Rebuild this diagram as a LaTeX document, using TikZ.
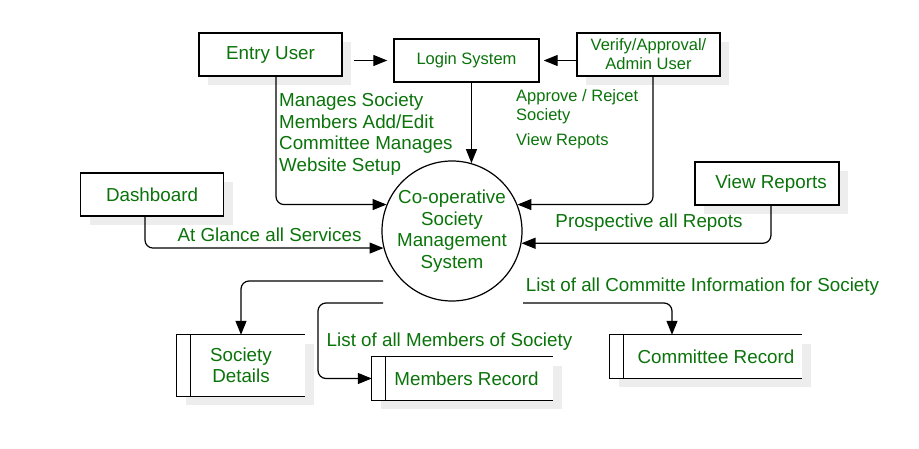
\documentclass[tikz,border=0pt]{standalone}
\usepackage{fontspec}
\setmainfont{Liberation Sans}
\usetikzlibrary{arrows.meta, positioning, calc, shadows}
\definecolor{txtgreen}{RGB}{10,115,10}

\begin{document}
\begin{tikzpicture}[
    x=1pt, y=-1pt,
    >={Triangle[length=14pt,width=11pt]},
    wire/.style={line width=1.2pt},
    flow/.style={wire, ->, rounded corners=8pt},
    shade/.style={drop shadow={shadow xshift=9pt, shadow yshift=-9pt,
                  fill=black!7, opacity=1}},
    bigfont/.style={font=\fontsize{18.8}{21.5}\selectfont},
    smallfont/.style={font=\fontsize{16.5}{19}\selectfont},
    entity/.style={draw, line width=1.4pt, fill=white, minimum width=143pt,
                   minimum height=43pt, inner sep=1pt, align=center,
                   text=txtgreen, bigfont},
    procnode/.style={draw, circle, line width=1.2pt, minimum size=140pt,
                     inner sep=0pt, align=center, text=txtgreen, bigfont},
    storenode/.style={fill=white, minimum height=43pt, inner sep=1pt,
                      align=center, text=txtgreen, bigfont, shade},
    flowlbl/.style={text=txtgreen, inner sep=0pt, align=left, bigfont}
  ]
  \useasboundingbox (0,0) rectangle (919,449);

  % External entities
  \node[entity, shade] (entry) at (270.5, 54.5) {Entry User};
  \node[entity, smallfont, minimum width=145pt] (login) at (466.5, 60.5) {Login System};
  \node[entity, shade, smallfont] (verify) at (648.5, 54.5) {Verify/Approval/\\Admin User};
  \node[entity, shade] (dash) at (152, 194.5) {Dashboard};
  \node[entity, shade, minimum width=144pt] (viewrep) at (767, 183.5) {\hspace*{8pt}View Reports};

  % Process
  \node[procnode] (sys) at (452, 231) {Co-operative\\Society\\Management\\System};

  % Data stores
  \node[storenode, minimum width=128pt, minimum height=61pt] (socdet) at (241, 365.5) {Society\\Details};
  \node[storenode, minimum width=181pt] (memrec) at (462.5, 378.5) {\hspace*{8pt}Members Record};
  \node[storenode, minimum width=192pt] (comrec) at (706, 356.5) {\hspace*{20pt}Committee Record};
  \foreach \s in {socdet, memrec, comrec} {
    \draw[wire] (\s.north east) -- (\s.north west) -- (\s.south west) -- (\s.south east);
    \draw[wire] ($(\s.north west)+(14,0)$) -- ($(\s.south west)+(14,0)$);
  }

  % Flows into login
  \draw[flow, shorten <=11pt, shorten >=6pt] (entry.east |- login.west) -- (login.west);
  \draw[flow, shorten >=4pt] (verify.west |- login.east) -- (login.east);
  \draw[flow] (sys.74 |- login.south) -- (sys.74);

  % Flows into the system
  \draw[flow] ($(entry.south)+(5.5,0)$) |- (sys.158);
  \draw[flow] ($(verify.south)+(4.5,0)$) |- (sys.22);
  \draw[flow] ($(viewrep.south)+(4,0)$) |- (sys.-10);
  \draw[flow] ($(dash.south)+(-7,0)$) |- (sys.194);

  % Flows out to the stores
  \coordinate (sdout) at (383, 281);
  \coordinate (mrout) at (383, 303);
  \coordinate (crout) at (523, 303);
  \draw[flow] (sdout) -| (socdet.north);
  \draw[flow] (mrout) -- ++(-65,0) |- (memrec.west);
  \draw[flow] (crout) -| ($(comrec.north)+(-34,0)$);

  % Flow labels
  \node[flowlbl, anchor=west] (entrylbl) at (279, 134)
    {Manages Society\\Members Add/Edit\\Committee Manages\\Website Setup};
  \node[flowlbl, smallfont, anchor=west] (verifylbl) at (516, 107)
    {Approve / Rejcet\\Society};
  \node[flowlbl, smallfont, anchor=west] (viewlbl) at (516, 141) {View Repots};
  \node[flowlbl] (prosplbl) at (649, 223) {Prospective all Repots};
  \node[flowlbl] (glancelbl) at (269.5, 235) {At Glance all Services};
  \node[flowlbl] (memlbl) at (449.5, 342) {List of all Members of Society};
  \node[flowlbl] (comlbl) at (702.5, 287) {List of all Committe Information for Society};
\end{tikzpicture}
\end{document}
